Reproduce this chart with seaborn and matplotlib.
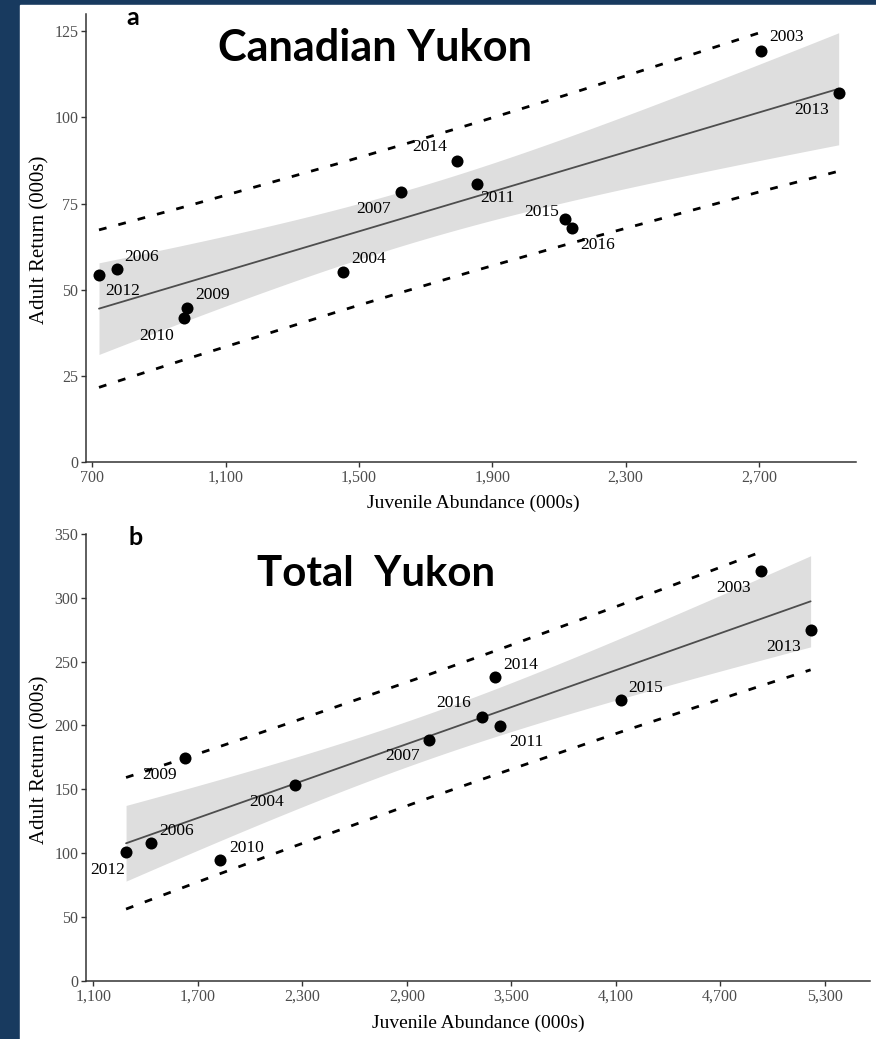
import numpy as np
import pandas as pd
import matplotlib
matplotlib.use("Agg")
import matplotlib.pyplot as plt
import seaborn as sns
from matplotlib.patches import Rectangle
from matplotlib.ticker import FixedLocator, FuncFormatter

# ---------------- data ----------------
years_a = [2012, 2006, 2009, 2010, 2004, 2007, 2014, 2011, 2015, 2016, 2003, 2013]
juv_a = [720, 774, 984, 975, 1452, 1626, 1795, 1853, 2118, 2140, 2706, 2939]
ret_a = [54.3, 56.0, 44.7, 41.8, 55.2, 78.4, 87.3, 80.6, 70.6, 67.8, 119.3, 107.0]

years_b = [2012, 2006, 2009, 2010, 2004, 2007, 2016, 2014, 2011, 2015, 2003, 2013]
juv_b = [1288, 1431, 1628, 1829, 2258, 3029, 3332, 3405, 3435, 4132, 4936, 5219]
ret_b = [100.7, 108.0, 174.7, 94.8, 153.2, 188.2, 206.9, 237.8, 199.6, 219.6, 320.6, 274.7]

xticks_a = [700, 1100, 1500, 1900, 2300, 2700]
yticks_a = [0, 25, 50, 75, 100, 125]
xticks_b = [1100, 1700, 2300, 2900, 3500, 4100, 4700, 5300]
yticks_b = [0, 50, 100, 150, 200, 250, 300, 350]

title_a = "Canadian Yukon"
title_b = "Total  Yukon"
xlabel = "Juvenile Abundance (000s)"
ylabel = "Adult Return (000s)"

# label offsets in pixels (dx right, dy down) -- layout only
off_a = {2006: (25, -12), 2012: (24, 16), 2009: (26, -13), 2010: (-27, 18),
         2004: (26, -13), 2007: (-27, 17), 2014: (-28, -14), 2011: (21, 14),
         2015: (-23, -7), 2016: (25, 17), 2003: (26, -14), 2013: (-27, 17)}
off_b = {2009: (-26, 17), 2006: (26, -12), 2012: (-18, 18), 2010: (26, -12),
         2004: (-28, 17), 2007: (-27, 16), 2016: (-28, -14), 2014: (26, -12),
         2011: (26, 16), 2015: (24, -12), 2003: (-28, 17), 2013: (-27, 17)}

T_975_DF10 = 2.228139  # Student t quantile for the 95% band of the fit, df = 10
Z_PRED = 1.68          # quantile used for the dashed prediction limits

W, H = 876, 1039
NAVY = "#183a5f"

sns.set_style("white")
plt.rcParams["font.family"] = ["Liberation Serif", "DejaVu Serif"]
plt.rcParams["text.color"] = "black"

fig = plt.figure(figsize=(W / 100, H / 100), dpi=100, facecolor=NAVY)
fig.patches.append(Rectangle((20 / W, 0), 1 - 20 / W, 1 - 5 / H,
                             transform=fig.transFigure, color="white", zorder=-10))


def px_axes(l, t, r, b):
    return fig.add_axes([l / W, 1 - b / H, (r - l) / W, (b - t) / H])


def panel(ax, xs, ys, yrs, offs, xlim, ylim, xt, yt):
    df = pd.DataFrame({"x": xs, "y": ys, "year": yrs})
    x = df["x"].to_numpy(float)
    y = df["y"].to_numpy(float)
    n = len(x)
    b1, b0 = np.polyfit(x, y, 1)
    resid = y - (b0 + b1 * x)
    s = np.sqrt(np.sum(resid ** 2) / (n - 2))
    xbar = x.mean()
    sxx = np.sum((x - xbar) ** 2)

    grid = np.linspace(x.min(), x.max(), 120)
    fitg = b0 + b1 * grid
    se = s * np.sqrt(1 / n + (grid - xbar) ** 2 / sxx)
    ax.fill_between(grid, fitg - T_975_DF10 * se, fitg + T_975_DF10 * se,
                    color="#dedede", lw=0, zorder=1)

    sns.regplot(data=df, x="x", y="y", ax=ax, ci=None, scatter=False, truncate=True,
                line_kws=dict(color="#4d4d4d", lw=1.3, zorder=2))

    xsrt = np.sort(x)
    fits = b0 + b1 * xsrt
    pi = Z_PRED * s * np.sqrt(1 + 1 / n + (xsrt - xbar) ** 2 / sxx)
    upper = fits + pi
    lower = fits - pi
    upper = np.where(upper > ylim[1], np.nan, upper)
    lower = np.where(lower < ylim[0], np.nan, lower)
    dash = (0, (2.8, 4.4))
    ax.plot(xsrt, upper, color="black", lw=2.0, ls=dash, zorder=3)
    ax.plot(xsrt, lower, color="black", lw=2.0, ls=dash, zorder=3)

    sns.scatterplot(data=df, x="x", y="y", ax=ax, color="black", s=75,
                    edgecolor="black", linewidth=0, zorder=4, legend=False)

    for xi, yi, yr in zip(df["x"], df["y"], df["year"]):
        dx, dy = offs[yr]
        ax.annotate(str(yr), (xi, yi), xytext=(dx, -dy), textcoords="offset pixels",
                    ha="center", va="center", fontsize=12.5, color="black", zorder=5)

    ax.set_xlim(*xlim)
    ax.set_ylim(*ylim)
    ax.xaxis.set_major_locator(FixedLocator(xt))
    ax.yaxis.set_major_locator(FixedLocator(yt))
    ax.xaxis.set_major_formatter(FuncFormatter(lambda v, p: f"{int(round(v)):,}"))
    ax.yaxis.set_major_formatter(FuncFormatter(lambda v, p: f"{int(round(v))}"))
    ax.set_xlabel("")
    ax.set_ylabel("")
    for sp in ["top", "right"]:
        ax.spines[sp].set_visible(False)
    for sp in ["left", "bottom"]:
        ax.spines[sp].set_color("#333333")
        ax.spines[sp].set_linewidth(1.1)
    ax.tick_params(axis="both", which="major", direction="out", length=3.5, width=1,
                   color="#333333", labelcolor="#4d4d4d", labelsize=11.5, pad=2,
                   bottom=True, left=True)
    ax.set_facecolor("none")
    ax.grid(False)


# panel a
ax_a = px_axes(86, 14, 856, 462)
panel(ax_a, juv_a, ret_a, years_a, off_a, (681, 2991), (0, 130), xticks_a, yticks_a)
# panel b
ax_b = px_axes(86, 533.7, 870, 981)
panel(ax_b, juv_b, ret_b, years_b, off_b, (1058, 5560), (0, 350), xticks_b, yticks_b)

# axis titles
fig.text(40 / W, 1 - 240 / H, ylabel, rotation=90, ha="center", va="center", fontsize=15)
fig.text(40 / W, 1 - 760 / H, ylabel, rotation=90, ha="center", va="center", fontsize=15)
fig.text(473 / W, 1 - 503 / H, xlabel, ha="center", va="center", fontsize=14)
fig.text(478 / W, 1 - 1023 / H, xlabel, ha="center", va="center", fontsize=14)

# panel letters and titles (slide text, sans bold)
sans = ["Lato", "DejaVu Sans"]
fig.text(126 / W, 1 - 25 / H, "a", ha="left", va="baseline", fontsize=18,
         fontweight="bold", family=sans, color="black")
fig.text(128 / W, 1 - 545 / H, "b", ha="left", va="baseline", fontsize=18,
         fontweight="bold", family=sans, color="black")

t_a = fig.text(375 / W, 1 - 60.7 / H, title_a, ha="center", va="baseline",
               fontsize=30, fontweight="bold", family=sans, color="black")
t_b = fig.text(376 / W, 1 - 586 / H, title_b, ha="center", va="baseline",
               fontsize=30, fontweight="bold", family=sans, color="black")

fig.canvas.draw()
r = fig.canvas.get_renderer()
for t, target in [(t_a, 314), (t_b, 238)]:
    w = t.get_window_extent(renderer=r).width
    t.set_fontsize(30 * target / w)

fig.savefig("out.png", dpi=100, facecolor=NAVY)
